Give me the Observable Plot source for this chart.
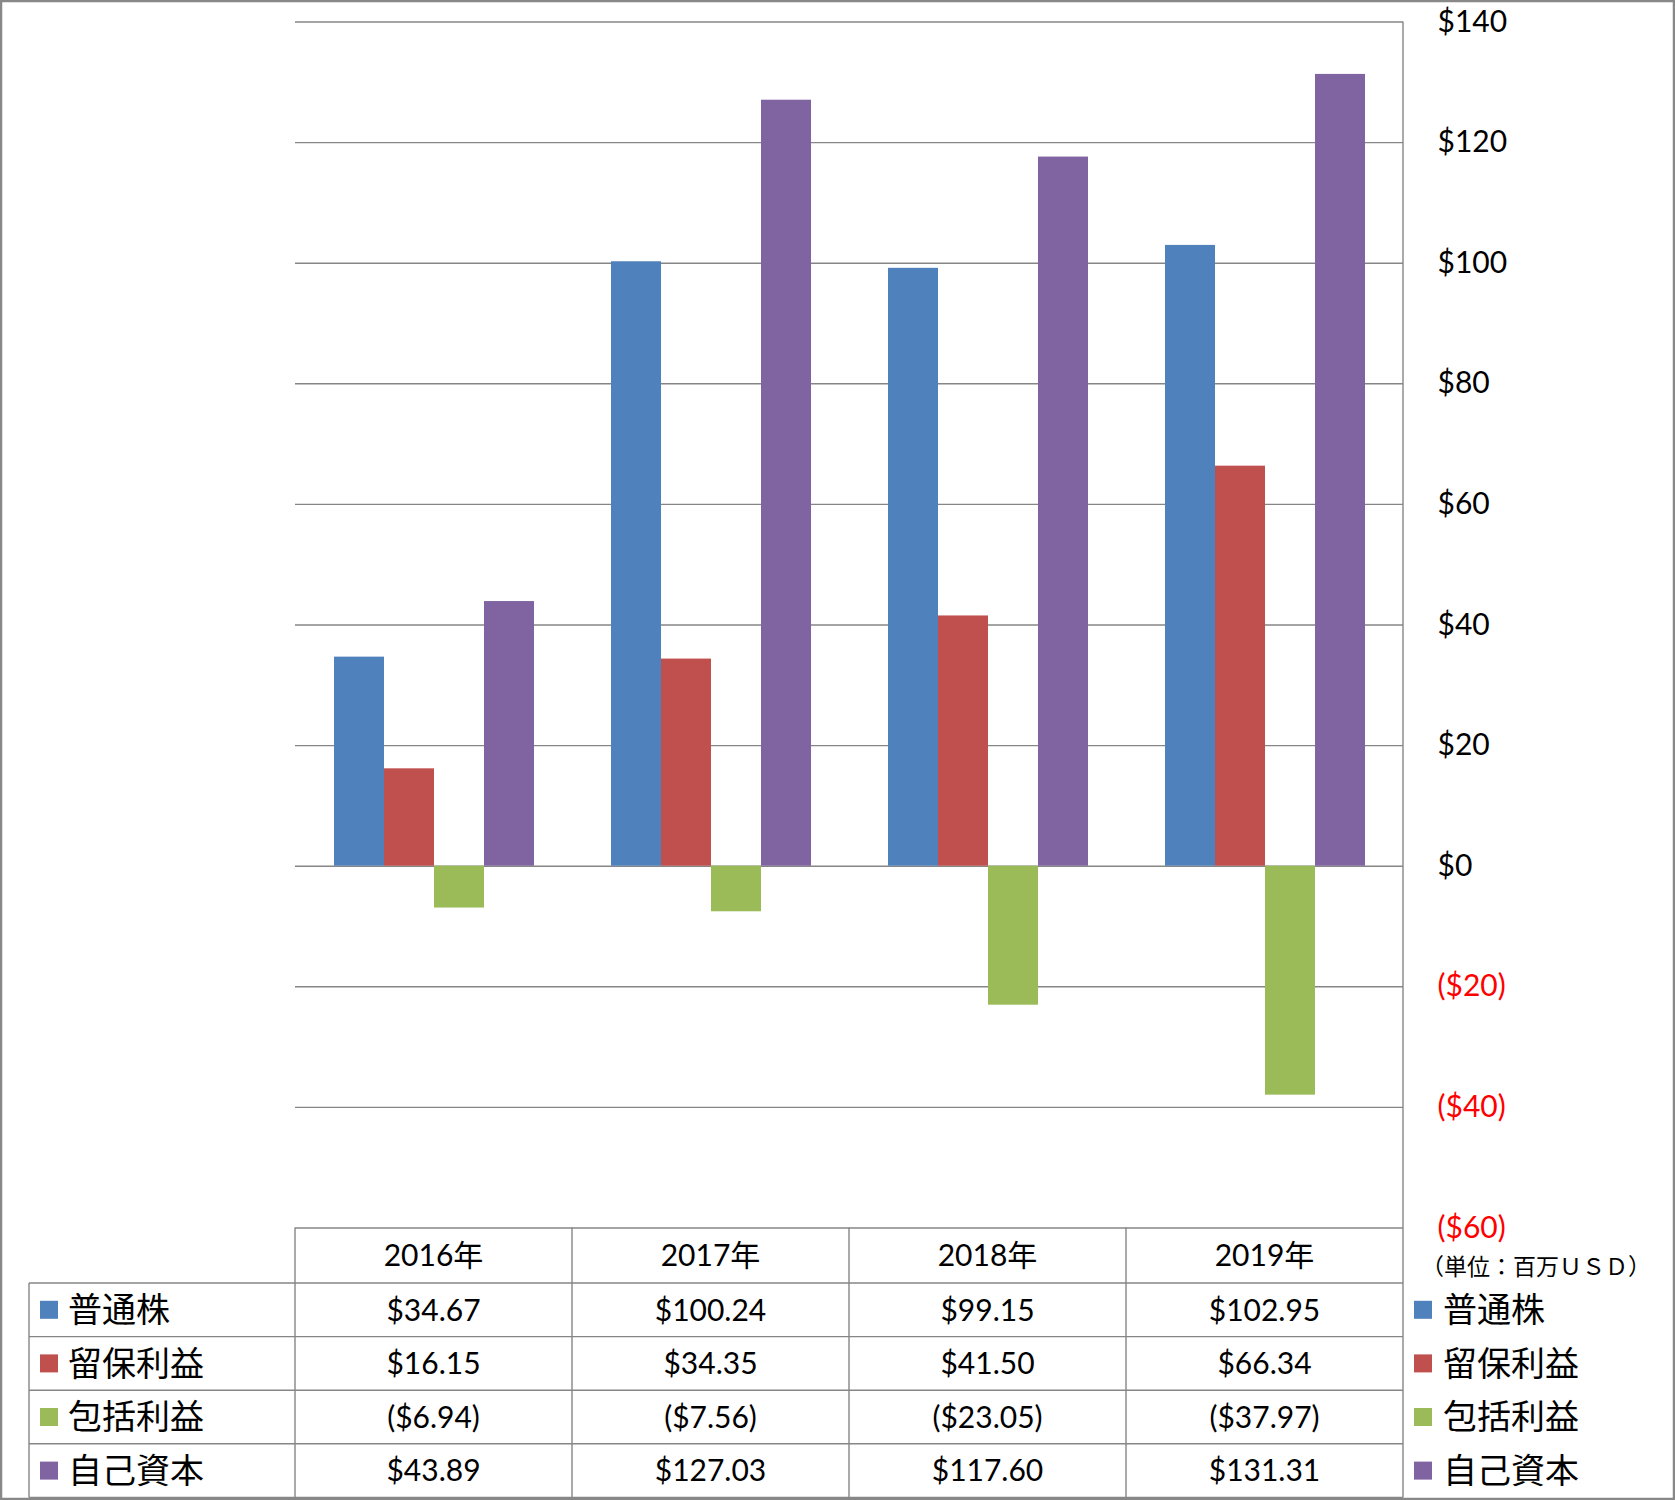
<!DOCTYPE html>
<html><head><meta charset="utf-8">
<script src="https://cdn.jsdelivr.net/npm/d3@7"></script>
<script src="https://cdn.jsdelivr.net/npm/@observablehq/plot@0.6"></script>
<style>
body{margin:0;background:#fff;}
#chart{position:relative;width:1675px;height:1500px;}
</style></head><body><div id="chart"></div>
<script>
const years = ["2016年","2017年","2018年","2019年"];
const seriesNames = ["普通株","留保利益","包括利益","自己資本"];
const seriesColors = ["#4F81BD","#C0504D","#9BBB59","#8064A2"];
const commonStock = [34.67, 100.24, 99.15, 102.95];
const retainedEarnings = [16.15, 34.35, 41.50, 66.34];
const comprehensiveIncome = [-6.94, -7.56, -23.05, -37.97];
const equity = [43.89, 127.03, 117.60, 131.31];
const posTicks = [0, 20, 40, 60, 80, 100, 120, 140];
const negTicks = [-60, -40, -20];
const unitLabel = "（単位：百万ＵＳＤ）";

const seriesValues = [commonStock, retainedEarnings, comprehensiveIncome, equity];
const data = [];
years.forEach((yr, i) => seriesNames.forEach((s, j) => data.push({year: yr, series: s, value: seriesValues[j][i]})));

const fmt = v => v < 0 ? `($${(-v).toFixed(2)})` : `$${v.toFixed(2)}`;
const tickFmt = v => v < 0 ? `($${-v})` : `$${v}`;

const W = 1675, H = 1500;
const plotLeft = 295, plotRight = 1403, plotTop = 21.5, plotBottom = 1227.5;
const FONT = "Lato, 'Noto Sans CJK JP', sans-serif";
const CJK = "'Noto Sans CJK JP', sans-serif";
const GRID = "#868686";

const plot = Plot.plot({
  width: W, height: H,
  marginLeft: plotLeft, marginRight: W - plotRight, marginTop: plotTop, marginBottom: H - plotBottom,
  style: {fontFamily: FONT, fontSize: "30px", background: "transparent", overflow: "visible"},
  fx: {domain: years, padding: 0, axis: null, label: null},
  x: {domain: seriesNames, paddingInner: 0, paddingOuter: 0.758, axis: null, label: null},
  y: {domain: [-60, 140], axis: null, label: null},
  color: {domain: seriesNames, range: seriesColors},
  marks: [
    Plot.ruleY([...negTicks, ...posTicks], {stroke: GRID, strokeWidth: 1.4}),
    Plot.barY(data, {fx: "year", x: "series", y: "value", fill: "series"}),
    Plot.axisY(posTicks, {anchor: "right", tickSize: 0, tickPadding: 34, textAnchor: "start", tickFormat: tickFmt, fill: "#000", fontSize: 30, label: null}),
    Plot.axisY(negTicks, {anchor: "right", tickSize: 0, tickPadding: 34, textAnchor: "start", tickFormat: tickFmt, fill: "#FF0000", fontSize: 30, label: null})
  ]
});
document.getElementById("chart").appendChild(plot);

// Table below the chart, aligned with the fx scale
const fx = plot.scale("fx");
const bw = fx.bandwidth;
const svg = d3.select(plot);
const headerBottom = 1283, rowH = 53.6;
const rowTops = seriesNames.map((_, j) => headerBottom + j * rowH);
const tableBottom = headerBottom + seriesNames.length * rowH;
const labelLeft = 29;
const g = svg.append("g").attr("text-anchor", "start");

const line = (x1, y1, x2, y2) => g.append("line").attr("x1", x1).attr("x2", x2).attr("y1", y1).attr("y2", y2).attr("stroke", GRID).attr("stroke-width", 1.4);
rowTops.forEach(y => line(labelLeft, y, plotRight, y));
line(labelLeft, tableBottom, plotRight, tableBottom);
years.forEach(yr => { const x = fx.apply(yr); line(x, plotBottom, x, tableBottom); });
line(plotRight, plotTop, plotRight, tableBottom);
line(labelLeft, headerBottom, labelLeft, tableBottom);

years.forEach(yr => {
  g.append("text").attr("x", fx.apply(yr) + bw / 2).attr("y", (plotBottom + headerBottom) / 2).attr("dy", "0.36em")
    .attr("text-anchor", "middle").attr("font-family", FONT).attr("font-size", 30).attr("fill", "#000").text(yr);
});
seriesNames.forEach((s, j) => {
  const cy = rowTops[j] + rowH / 2;
  years.forEach((yr, i) => {
    g.append("text").attr("x", fx.apply(yr) + bw / 2).attr("y", cy).attr("dy", "0.36em")
      .attr("text-anchor", "middle").attr("font-family", FONT).attr("font-size", 30).attr("fill", "#000").text(fmt(seriesValues[j][i]));
  });
  g.append("rect").attr("x", 40).attr("y", cy - 9).attr("width", 18).attr("height", 18).attr("fill", seriesColors[j]);
  g.append("text").attr("x", 68).attr("y", cy).attr("dy", "0.36em").attr("text-anchor", "start").attr("font-family", CJK)
    .attr("font-size", 34).attr("fill", "#000").text(s);
  g.append("rect").attr("x", 1414).attr("y", cy - 9).attr("width", 18).attr("height", 18).attr("fill", seriesColors[j]);
  g.append("text").attr("x", 1443).attr("y", cy).attr("dy", "0.36em").attr("text-anchor", "start").attr("font-family", CJK)
    .attr("font-size", 34).attr("fill", "#000").text(s);
});
g.append("text").attr("x", 1421).attr("y", 1267).attr("dy", "0.36em").attr("text-anchor", "start").attr("font-family", CJK)
  .attr("font-size", 23).attr("fill", "#000").text(unitLabel);
g.append("rect").attr("x", 1).attr("y", 1).attr("width", W - 2).attr("height", H - 2).attr("fill", "none").attr("stroke", "#888").attr("stroke-width", 2.5);
</script></body></html>
